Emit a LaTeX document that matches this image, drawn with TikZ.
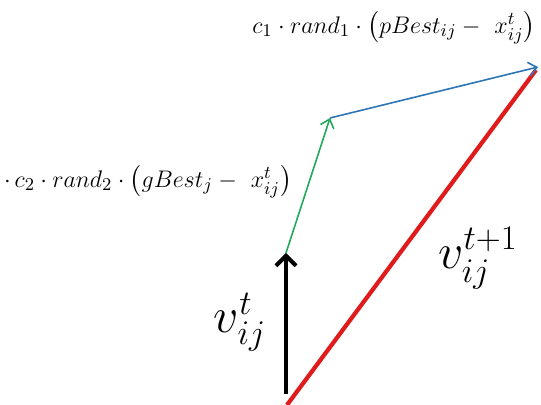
\documentclass[tikz,border=0pt]{standalone}
\usepackage{amsmath,amssymb}
\usepackage{tikz}
\usetikzlibrary{arrows.meta,calc}
\definecolor{velblack}{HTML}{000000}
\definecolor{cogngreen}{HTML}{23A95C}
\definecolor{socblue}{HTML}{2E75B6}
\definecolor{newred}{HTML}{E01B1B}

\begin{document}
\begin{tikzpicture}[
    x=0.5pt, y=0.5pt,
    termlabel/.style={font=\fontsize{13}{15}\selectfont, inner sep=0pt},
    vellabel/.style={font=\fontsize{24}{28}\selectfont, inner sep=0pt},
    oldvel/.style={line width=2pt, color=velblack,
                   -{Straight Barb[length=5pt,width=10pt]}},
    cogn/.style={line width=0.8pt, color=cogngreen,
                 -{Straight Barb[length=4pt,width=7pt]}},
    soc/.style={line width=0.8pt, color=socblue,
                -{Straight Barb[length=4pt,width=7pt]}},
    newvel/.style={line width=2.1pt, color=newred}
]
\useasboundingbox (0,0) rectangle (541,405);

% --- Vector end points ---
\coordinate (base) at (286,11);
\coordinate (rbase) at (287,0);
\coordinate (vtip) at (286,152);
\coordinate (gtip) at (330,287);
\coordinate (btip) at (538,338);
\coordinate (rtip) at (536,335);

% --- Velocity terms ---
\draw[newvel] (rbase) -- (rtip);
\draw[oldvel] (base) -- (vtip);
\draw[cogn] (vtip) -- (gtip);
\draw[soc] (gtip) -- (btip);

% --- Labels ---
\node[termlabel] (pterm) at (394,377)
     {$c_1\cdot rand_1\cdot\left(pBest_{ij}-\ x^t_{ij}\right)$};
\node[termlabel] (gterm) at (148,223)
     {$\cdot\, c_2\cdot rand_2\cdot\left(gBest_j-\ x^t_{ij}\right)$};
\node[vellabel] (vold) at (240,83) {$v^t_{ij}$};
\node[vellabel] (vnew) at (478,147) {$v^{t+1}_{ij}$};

\end{tikzpicture}
\end{document}
